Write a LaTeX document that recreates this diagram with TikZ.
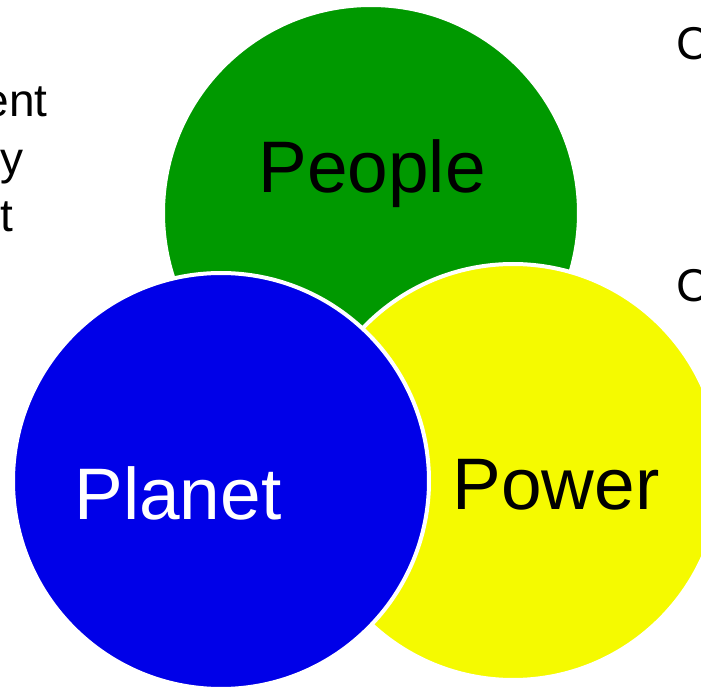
\documentclass[tikz,border=0pt]{standalone}
\usepackage{fontspec}
\setmainfont{Liberation Sans}
\definecolor{cgreen}{RGB}{0,153,0}
\definecolor{cblue}{RGB}{0,0,232}
\definecolor{cyellow}{RGB}{245,250,0}
\begin{document}
\begin{tikzpicture}[x=0.75pt,y=-0.75pt,
  disc/.style={circle,draw=white,line width=3pt,minimum size=312pt,inner sep=0pt},
  bigtxt/.style={anchor=base,inner sep=0pt,font=\fontsize{54.75pt}{60pt}\selectfont},
  sidetxt/.style={inner sep=0pt,font=\fontsize{34.5pt}{40pt}\selectfont}]
\useasboundingbox (0,0) rectangle (701,688);
\fill[white] (0,0) rectangle (701,688);
\node[disc,fill=cgreen] (green) at (371,213) {};
\node[disc,fill=cyellow] (yellow) at (513,472) {};
\node[disc,fill=cblue] (blue) at (221,481) {};
\node[bigtxt,text=black] (people) at (372,193) {People};
\node[bigtxt,text=white] (planet) at (178,519) {Planet};
\node[bigtxt,text=black] (power) at (556,510) {Power};
\node[sidetxt,anchor=base east] (l1) at (48,117) {ent};
\node[sidetxt,anchor=base east] (l2) at (24,175) {y};
\node[sidetxt,anchor=base east] (l3) at (14,232) {t};
\node[sidetxt,anchor=base west] (r1) at (676,60) {C};
\node[sidetxt,anchor=base west] (r2) at (676,302) {C};
\end{tikzpicture}
\end{document}
